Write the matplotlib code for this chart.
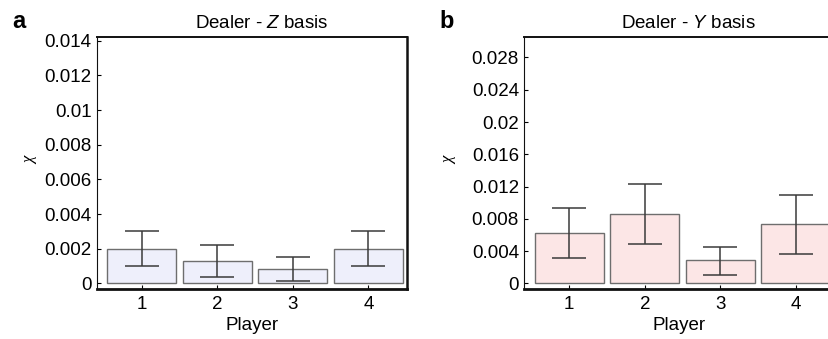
import numpy as np
import matplotlib
matplotlib.use('Agg')
import matplotlib.pyplot as plt
from matplotlib.ticker import FuncFormatter

plt.rcParams['font.family'] = ['Liberation Sans', 'DejaVu Sans']
plt.rcParams['mathtext.fontset'] = 'custom'
plt.rcParams['mathtext.rm'] = 'Liberation Sans'
plt.rcParams['mathtext.it'] = 'Liberation Sans:italic'

# Data
players = [1, 2, 3, 4]
player_labels = ['1', '2', '3', '4']

# Panel a: Z basis
z_chi = [0.0020, 0.00127, 0.00083, 0.0020]
z_low = [0.00098, 0.00035, 0.00012, 0.00098]
z_high = [0.00303, 0.00219, 0.00150, 0.00303]
z_ticks = [0, 0.002, 0.004, 0.006, 0.008, 0.01, 0.012, 0.014]

# Panel b: Y basis
y_chi = [0.0062, 0.00858, 0.00285, 0.00734]
y_low = [0.0031, 0.00487, 0.00107, 0.00359]
y_high = [0.0093, 0.0123, 0.00446, 0.0110]
y_ticks = [0, 0.004, 0.008, 0.012, 0.016, 0.02, 0.024, 0.028]

W, H = 829, 339
fig = plt.figure(figsize=(W / 100, H / 100), dpi=100)


def px_axes(left, top, right, bottom):
    return fig.add_axes([left / W, 1 - bottom / H, (right - left) / W, (bottom - top) / H])


def draw_panel(ax, values, low, high, ticks, ylim, face, title_var, letter, letter_x, chi_x):
    values = np.array(values)
    yerr = [values - np.array(low), np.array(high) - values]
    ax.bar(players, values, width=0.91, color=face, edgecolor='#6e6e6e', linewidth=1.0, zorder=2)
    ax.errorbar(players, values, yerr=yerr, fmt='none', ecolor='#3a3a3a',
                elinewidth=1.1, capsize=12.5, capthick=1.1, zorder=3)

    ax.set_xlim(0.408, 4.512)
    ax.set_ylim(*ylim)
    ax.set_xticks(players)
    ax.set_xticklabels(player_labels)
    ax.set_yticks(ticks)
    ax.yaxis.set_major_formatter(FuncFormatter(lambda v, p: '%g' % v))
    ax.tick_params(axis='both', direction='in', length=3, width=0.8, labelsize=13.5, pad=4)
    ax.tick_params(axis='x', pad=5)

    ax.spines['left'].set_linewidth(0.8)
    ax.spines['bottom'].set_linewidth(2.0)
    ax.spines['top'].set_linewidth(1.4)
    ax.spines['right'].set_linewidth(1.8)
    for s in ax.spines.values():
        s.set_color('#111111')

    ax.set_xlabel('Player', fontsize=13.5, labelpad=3)
    ax.set_title('Dealer - $%s$ basis' % title_var, fontsize=13.5, x=0.53, pad=6)
    fig.text(chi_x / W, 1 - 160 / H, '\u03c7', rotation=90,
             family='Liberation Serif', style='italic', fontsize=12,
             ha='center', va='center')
    fig.text(letter_x / W, 1 - 21 / H, letter, fontsize=17, fontweight='bold',
             ha='left', va='center')


ax_a = px_axes(97, 36.5, 407, 289)
draw_panel(ax_a, z_chi, z_low, z_high, z_ticks, (-0.00033, 0.01425),
           '#eeeffb', 'Z', 'a', 12, 30)

ax_b = px_axes(524.5, 36.5, 834.5, 289)
draw_panel(ax_b, y_chi, y_low, y_high, y_ticks, (-0.0007, 0.0306),
           '#fce6e6', 'Y', 'b', 439, 449)

fig.savefig('out.png', dpi=100)
